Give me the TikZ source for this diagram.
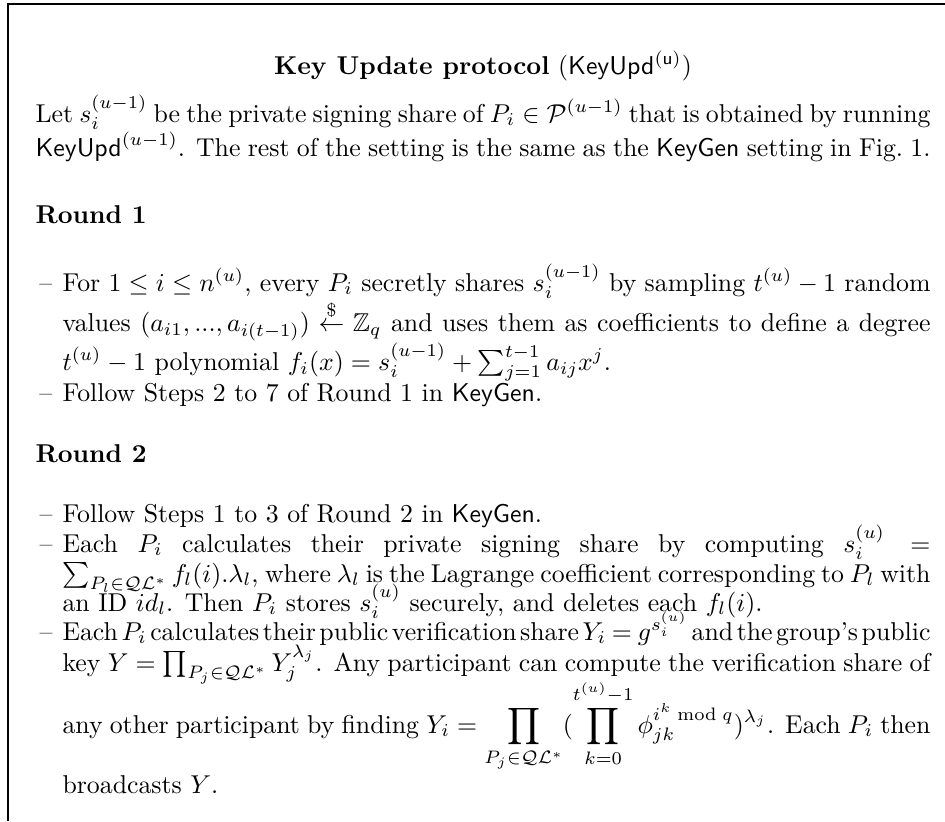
\documentclass[tikz,border=0pt]{standalone}
\usepackage{amsmath}
\usepackage{amssymb}
\usepackage{tikz}
\newlength{\pxunit}
\setlength{\pxunit}{0.3877pt}
\newcommand{\KeyUpdName}{\mathsf{KeyUpd}}
\newcommand{\KeyGenName}{\textsf{KeyGen}}
\newcommand{\QLset}{\mathcal{Q}\mathcal{L}^*}
\newenvironment{dashlist}{\begin{list}{--}{\setlength{\leftmargin}{10.5pt}\setlength{\labelsep}{4pt}\setlength{\labelwidth}{6.5pt}\setlength{\itemsep}{0pt}\setlength{\parsep}{0pt}\setlength{\topsep}{0pt}\setlength{\partopsep}{0pt}}}{\end{list}}
\newcommand{\protobox}[1]{\begin{minipage}[t]{895\pxunit}#1\end{minipage}}
\newcommand{\linebox}[1]{\makebox[868\pxunit][s]{#1}}
\newcommand{\tightline}[1]{{\spaceskip=3.33pt plus 1.67pt minus 2pt\medmuskip=3mu plus 2mu minus 3mu\thickmuskip=4mu plus 3mu#1}}

\begin{document}
\begin{tikzpicture}[x=1\pxunit,y=-1\pxunit,txt/.style={inner sep=0pt,anchor=base west},head/.style={txt,font=\bfseries},frame/.style={line width=0.5pt}]
\useasboundingbox (0,0) rectangle (945,821);
\draw[frame] (8,821) -- (8,4) -- (945,4);
\node[txt,anchor=base] (title) at (483,74) {\textbf{Key Update protocol} (\textsf{KeyUpd}$^{(\textsf{u})}$)};
\node[txt] (intro) at (35,122) {\protobox{Let $s_i^{(u-1)}$ be the private signing share of $P_i \in \mathcal{P}^{(u-1)}$ that is obtained by running\linebreak $\KeyUpdName^{(u-1)}$. The rest of the setting is the same as the \KeyGenName{} setting in Fig.~1.}};
\node[head] (round1) at (35,223) {Round 1};
\node[txt] (list1) at (35,291) {\protobox{\begin{dashlist}
\item For $1 \le i \le n^{(u)}$, every $P_i$ secretly shares $s_i^{(u-1)}$ by sampling $t^{(u)}-1$ random\linebreak values $(a_{i1},...,a_{i(t-1)}) \stackrel{\$}{\leftarrow} \mathbb{Z}_q$ and uses them as coefficients to define a degree\linebreak $t^{(u)}-1$ polynomial $f_i(x) = s_i^{(u-1)} + \sum_{j=1}^{t-1} a_{ij}x^j$.
\item Follow Steps 2 to 7 of Round 1 in \KeyGenName.
\end{dashlist}}};
\node[head] (round2) at (35,462) {Round 2};
\foreach \y in {522,552,640} {
   \node[txt] (dash\y) at (39,\y) {--};
}
\node[txt] (r2a) at (62,522) {Follow Steps 1 to 3 of Round 2 in \KeyGenName.};
\node[txt] (r2b) at (62,552) {\linebox{Each $P_i$ calculates their private signing share by computing $s_i^{(u)} =$}};
\node[txt] (r2c) at (62,582) {\linebox{$\sum_{P_l \in \QLset} f_l(i).\lambda_l$, where $\lambda_l$ is the Lagrange coefficient corresponding to $P_l$ with}};
\node[txt] (r2d) at (62,611) {an ID $id_l$. Then $P_i$ stores $s_i^{(u)}$ securely, and deletes each $f_l(i)$.};
\node[txt] (r2e) at (62,640) {\linebox{\tightline{Each $P_i$ calculates their public verification share $Y_i = g^{s_i^{(u)}}$ and the group's public}}};
\node[txt] (r2f) at (62,671) {\linebox{key $Y = \prod_{P_j \in \QLset} Y_j^{\lambda_j}$. Any participant can compute the verification share of}};
\node[txt] (r2g) at (62,733) {\linebox{any other participant by finding $Y_i = \displaystyle\prod_{P_j \in \QLset} (\prod_{k=0}^{t^{(u)}-1} \phi_{jk}^{i^k \bmod q})^{\lambda_j}$. Each $P_i$ then}};
\node[txt] (r2h) at (62,793) {broadcasts $Y$.};
\end{tikzpicture}
\end{document}
